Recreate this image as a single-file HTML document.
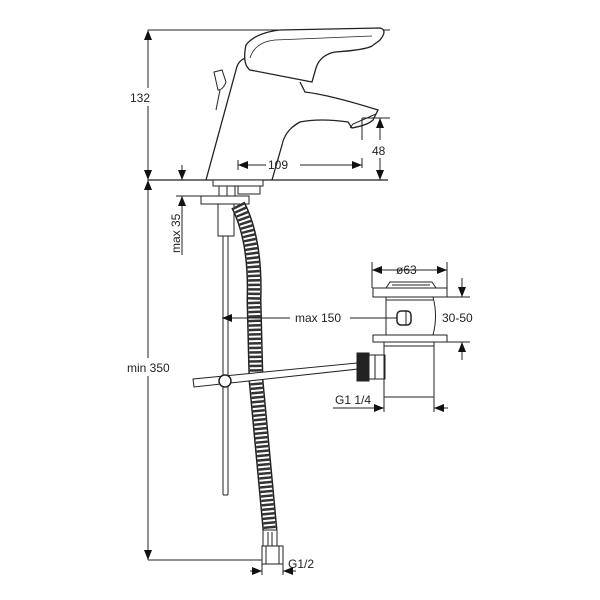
<!DOCTYPE html>
<html><head><style>html,body{margin:0;padding:0;background:#fff}svg{display:block}text{font-family:"Liberation Sans",sans-serif;font-size:12px;fill:#222}</style></head><body>
<svg width="600" height="600" viewBox="0 0 600 600" xmlns="http://www.w3.org/2000/svg">
<defs>
<marker id="a" markerWidth="10" markerHeight="8" refX="10" refY="4" orient="auto-start-reverse" markerUnits="userSpaceOnUse"><path d="M0,0 L10,4 L0,8 Z" fill="#111"/></marker>
</defs>
<g stroke="#222" fill="none" stroke-width="1">
<line x1="148" y1="30" x2="390" y2="30"/>
<line x1="148" y1="180" x2="388" y2="180" stroke-width="1.3"/>
<line x1="148" y1="30" x2="148" y2="88" marker-start="url(#a)"/>
<line x1="148" y1="106" x2="148" y2="180" marker-end="url(#a)"/>
<line x1="148" y1="180" x2="148" y2="358" marker-start="url(#a)"/>
<line x1="148" y1="376" x2="148" y2="560" marker-end="url(#a)"/>
<line x1="148" y1="560" x2="265" y2="560"/>
<line x1="362" y1="118" x2="390" y2="118"/>
<line x1="380" y1="118" x2="380" y2="142" marker-start="url(#a)"/>
<line x1="380" y1="158" x2="380" y2="180" marker-end="url(#a)"/>
<line x1="362" y1="118" x2="362" y2="168"/>
<line x1="238" y1="160" x2="238" y2="170"/>
<line x1="238" y1="165" x2="266" y2="165" marker-start="url(#a)"/>
<line x1="300" y1="165" x2="362" y2="165" marker-end="url(#a)"/>
<line x1="182" y1="165" x2="182" y2="180" marker-end="url(#a)"/>
<line x1="176" y1="196" x2="222" y2="196"/>
<line x1="182" y1="196" x2="182" y2="255" marker-start="url(#a)"/>
<path d="M206,180 L236,70 Q238,60 246,58 L300,70" stroke-width="1.3"/>
<path d="M246,45 Q255,33 280,30 L380,28 Q388,30 380,40 L372,46 Q365,50 335,52 Q320,55 316,68 L312,82 L250,70 Q242,64 246,45 Z" fill="#fff" stroke-width="1.3"/>
<path d="M250,58 Q255,42 275,40 L372,36" stroke-width="0.8"/>
<path d="M300,82 L305,92 Q330,95 378,110 L373,120 Q368,125 352,128 L348,122 Q320,118 300,122 Q285,130 282,145 L272,180" stroke-width="1.3"/>
<path d="M350,128 L353,124 L376,114" stroke-width="1"/>
<path d="M214,72 L222,70 L226,82 Q223,90 218,90 Z" fill="#fff"/>
<line x1="220" y1="90" x2="216" y2="110"/>
<rect x="213" y="180" width="50" height="6" fill="#fff"/>
<rect x="219" y="186" width="8" height="10" fill="#fff"/>
<rect x="227" y="186" width="8" height="10" fill="#fff"/>
<rect x="238" y="186" width="22" height="8" fill="#fff"/>
<rect x="201" y="196" width="48" height="8" fill="#fff"/>
<rect x="218" y="204" width="16" height="32" fill="#fff"/>
<line x1="223" y1="236" x2="223" y2="495"/>
<line x1="228" y1="236" x2="228" y2="495"/>
<line x1="223" y1="495" x2="228" y2="495"/>
<path d="M238,205 Q256,240 254,300 L256,380 L270,530" stroke="#222" stroke-width="15"/>
<path d="M238,205 Q256,240 254,300 L256,380 L270,530" stroke="#fff" stroke-width="12"/>
<path d="M238,205 Q256,240 254,300 L256,380 L270,530" stroke="#333" stroke-width="12" stroke-dasharray="2.5 2"/>
<rect x="263" y="530" width="14" height="16" fill="#fff"/>
<line x1="268" y1="532" x2="268" y2="546"/><line x1="272" y1="532" x2="272" y2="546"/>
<rect x="262" y="546" width="21" height="18" fill="#fff"/>
<line x1="266" y1="546" x2="266" y2="564"/><line x1="279" y1="546" x2="279" y2="564"/>
<line x1="250" y1="571" x2="262" y2="571" marker-end="url(#a)"/>
<line x1="296" y1="571" x2="283" y2="571" marker-end="url(#a)"/>
<line x1="262" y1="564" x2="262" y2="575"/><line x1="283" y1="564" x2="283" y2="575"/>
<line x1="222" y1="318" x2="290" y2="318" marker-start="url(#a)"/>
<line x1="350" y1="318" x2="400" y2="318"/>
<path d="M193,379 L357,363 L358,369 L194,387 Z" fill="#fff"/>
<circle cx="225" cy="381" r="6" fill="#fff" stroke-width="1.5"/>
<rect x="357" y="353" width="12" height="28" fill="#222"/>
<rect x="369" y="355" width="16" height="24" fill="#fff"/>
<line x1="375" y1="355" x2="375" y2="379"/>
<line x1="372" y1="262" x2="372" y2="288"/><line x1="447" y1="262" x2="447" y2="288"/>
<line x1="372" y1="270" x2="447" y2="270" marker-start="url(#a)" marker-end="url(#a)"/>
<path d="M386,288 L390,282 L432,282 L436,288" fill="#fff"/>
<line x1="392" y1="285" x2="430" y2="285"/>
<rect x="373" y="288" width="74" height="9" fill="#fff"/>
<path d="M386,297 L386,335 M433,297 Q438,316 433,335"/>
<line x1="386" y1="300" x2="433" y2="300"/>
<rect x="397" y="311" width="14" height="14" rx="4" fill="#fff" stroke-width="1.5"/>
<line x1="406" y1="311" x2="406" y2="325"/>
<rect x="373" y="335" width="74" height="7" fill="#fff"/>
<path d="M384,342 L384,397 L434,397 L434,342"/>
<line x1="384" y1="346" x2="434" y2="346"/>
<line x1="447" y1="297" x2="470" y2="297"/>
<line x1="462" y1="278" x2="462" y2="297" marker-end="url(#a)"/>
<line x1="447" y1="342" x2="470" y2="342"/>
<line x1="462" y1="360" x2="462" y2="342" marker-end="url(#a)"/>
<line x1="333" y1="408" x2="384" y2="408" marker-end="url(#a)"/>
<line x1="384" y1="397" x2="384" y2="412"/><line x1="434" y1="397" x2="434" y2="412"/>
<line x1="448" y1="408" x2="434" y2="408" marker-end="url(#a)"/>
</g>
<rect x="360" y="140" width="26" height="18" fill="#fff"/>
<text x="130" y="102">132</text>
<text x="372" y="155">48</text>
<text x="268" y="169">109</text>
<text x="127" y="372">min 350</text>
<text x="295" y="322">max 150</text>
<text x="396" y="274">ø63</text>
<text x="442" y="322">30-50</text>
<text x="335" y="404">G1 1/4</text>
<text x="288" y="568">G1/2</text>
<text x="0" y="0" transform="translate(180,253) rotate(-90)">max 35</text>
</svg>
</body></html>
